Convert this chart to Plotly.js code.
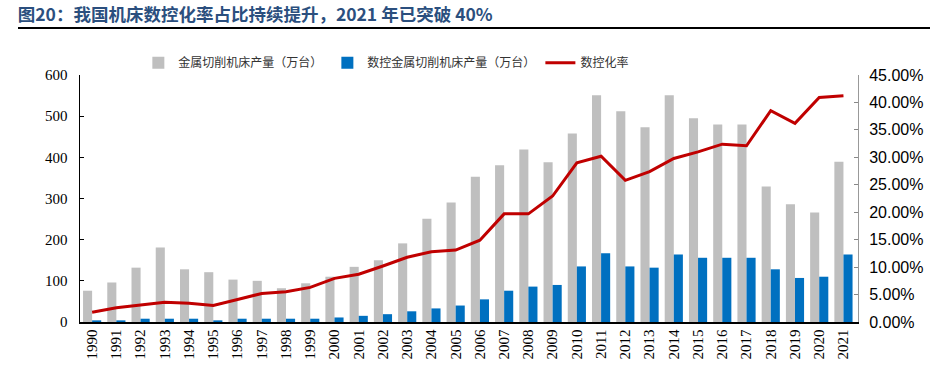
<!DOCTYPE html>
<html>
<head>
<meta charset="utf-8">
<script src="https://cdn.plot.ly/plotly-3.0.1.min.js"></script>
<style>html,body{margin:0;padding:0;background:#fff;}#chart{width:935px;height:371px;}</style>
</head>
<body>
<div id="chart"></div>
<script>
const years = ['1990','1991','1992','1993','1994','1995','1996','1997','1998','1999','2000','2001','2002','2003','2004','2005','2006','2007','2008','2009','2010','2011','2012','2013','2014','2015','2016','2017','2018','2019','2020','2021'];
const metalCutting = [76,96,132,181,128,121,103,100,82,94,110,134,150,191,251,290,353,381,419,388,458,551,512,473,551,495,480,480,329,286,266,389];
const cncMetalCutting = [4,4,8,8,8,4,8,8,8,8,11,15,19,26,33,40,55,76,86,90,135,167,135,132,164,156,156,156,128,107,110,164];
const cncRate = [1.77,2.6,3.1,3.6,3.4,3.0,4.1,5.2,5.5,6.3,7.95,8.7,10.2,11.8,12.8,13.1,14.9,19.7,19.7,22.95,29.0,30.2,25.8,27.4,29.8,31.0,32.4,32.1,38.5,36.2,40.9,41.2];
const leftTicks = [0,100,200,300,400,500,600];
const rightTicks = [0,5,10,15,20,25,30,35,40,45];
const rightTickLabels = ['0.00%','5.00%','10.00%','15.00%','20.00%','25.00%','30.00%','35.00%','40.00%','45.00%'];

const serif = 'Liberation Serif, Times New Roman, serif';
const cjk = 'Noto Sans CJK SC, sans-serif';

const traces = [
  {type:'bar', name:'金属切削机床产量（万台）', x:years, y:metalCutting, marker:{color:'#BFBFBF'}, yaxis:'y'},
  {type:'bar', name:'数控金属切削机床产量（万台）', x:years, y:cncMetalCutting, marker:{color:'#0070C0'}, yaxis:'y'},
  {type:'scatter', mode:'lines', name:'数控化率', x:years, y:cncRate, line:{color:'#C00000', width:3}, yaxis:'y2'}
];

const layout = {
  width:935, height:371,
  margin:{l:80, r:77, t:75, b:49},
  paper_bgcolor:'#fff', plot_bgcolor:'#fff',
  barmode:'group', bargap:0.25, bargroupgap:0,
  showlegend:true,
  legend:{orientation:'h', x:0.075, xanchor:'left', y:1.05, yanchor:'middle',
    font:{family:cjk, size:12, color:'#333'}, bgcolor:'rgba(0,0,0,0)'},
  title:{text:'<b>图20：我国机床数控化率占比持续提升，2021 年已突破 40%</b>', x:0.019, xanchor:'left', xref:'container', y:0.96, yanchor:'middle', yref:'container',
    font:{family:cjk, size:17.5, color:'#2B4F7E'}},
  xaxis:{type:'category', tickvals:years, ticktext:years, tickangle:-90, tickfont:{family:serif, size:15, color:'#000'},
    showline:true, linecolor:'#000', linewidth:1.5, ticks:'', showgrid:false, zeroline:false, range:[-0.5,31.6]},
  yaxis:{range:[0,600], tickvals:leftTicks, ticks:'inside', ticklen:4, tickcolor:'#000', showline:true, linecolor:'#000', linewidth:1.5,
    showgrid:false, zeroline:false, ticklabelstandoff:8, tickfont:{family:serif, size:15, color:'#000'}},
  yaxis2:{range:[0,45], overlaying:'y', side:'right', tickvals:rightTicks, ticktext:rightTickLabels,
    ticks:'inside', ticklen:4, tickcolor:'#888', showline:true, linecolor:'#999', linewidth:1,
    showgrid:false, zeroline:false, ticklabelstandoff:7, tickfont:{family:'Liberation Sans, Arial, sans-serif', size:16, color:'#000'}},
  shapes:[{type:'line', xref:'paper', yref:'paper', x0:(18-80)/778, x1:(930-80)/778, y0:(322-28)/247, y1:(322-28)/247, line:{color:'#000', width:2}}]
};

Plotly.newPlot('chart', traces, layout, {displayModeBar:false, staticPlot:true});
</script>
</body>
</html>
